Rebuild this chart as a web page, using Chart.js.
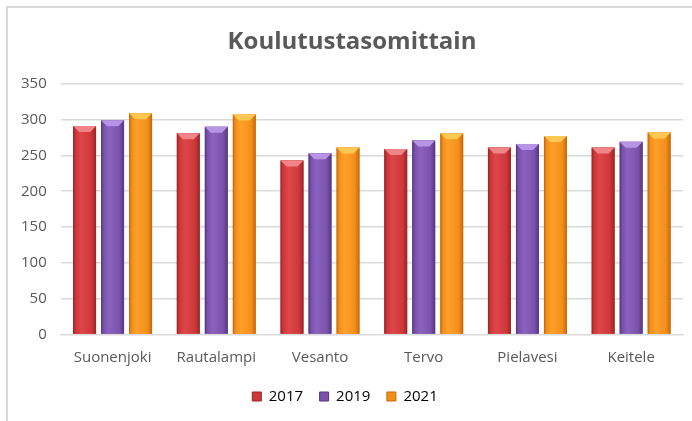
<!DOCTYPE html>
<html>
<head>
<meta charset="utf-8">
<script src="https://cdn.jsdelivr.net/npm/chart.js@4"></script>
<style>
    html, body { margin: 0; padding: 0; background: #fff; }
    #wrap { position: relative; width: 692px; height: 421px; overflow: hidden; }
    #frame { position: absolute; left: 6px; top: 6px; width: 720px; height: 440px; border: 2px solid #d9d9d9; box-sizing: border-box; }
    canvas { position: absolute; left: 0; top: 0; }
</style>
</head>
<body>
<div id="wrap">
    <div id="frame"></div>
    <canvas id="chart" width="692" height="421"></canvas>
</div>
<script>
const municipalities = ['Suonenjoki', 'Rautalampi', 'Vesanto', 'Tervo', 'Pielavesi', 'Keitele'];
const years = ['2017', '2019', '2021'];
const values2017 = [291, 281, 243, 259, 261, 261];
const values2019 = [299, 290, 253, 271, 266, 269];
const values2021 = [309, 307, 261, 281, 277, 282];
const yTicks = [0, 50, 100, 150, 200, 250, 300, 350];

// base colour, dark edge, light centre, top bevel
const palette = [
    { base: '#cd3739', edge: '#9a2426', light: '#de4749', top: '#f08486' },
    { base: '#7a52ab', edge: '#533681', light: '#8b62bf', top: '#b794e6' },
    { base: '#f28f1b', edge: '#c5660b', light: '#ffa02a', top: '#ffc852' }
];

// shaded bars: gradient across each bar plus a small bevel on top
const bevelPlugin = {
    id: 'bevel',
    afterLayout(chart) {
        // title sits a little right of the canvas centre in the original
        if (chart.titleBlock) chart.titleBlock.left += 14;
    },
    afterDatasetsDraw(chart) {
        const ctx = chart.ctx;
        chart.data.datasets.forEach((ds, i) => {
            const col = palette[i];
            chart.getDatasetMeta(i).data.forEach(bar => {
                const p = bar.getProps(['x', 'y', 'base', 'width'], true);
                const l = p.x - p.width / 2, r = p.x + p.width / 2;
                const g = ctx.createLinearGradient(l, 0, r, 0);
                g.addColorStop(0, col.edge);
                g.addColorStop(0.12, col.base);
                g.addColorStop(0.35, col.light);
                g.addColorStop(0.8, col.base);
                g.addColorStop(1, col.edge);
                ctx.save();
                ctx.fillStyle = g;
                ctx.fillRect(l, p.y, p.width, p.base - p.y);
                const b = 6;
                ctx.fillStyle = col.top;
                ctx.beginPath();
                ctx.moveTo(l, p.y);
                ctx.lineTo(r, p.y);
                ctx.lineTo(r - b, p.y + b);
                ctx.lineTo(l + b, p.y + b);
                ctx.closePath();
                ctx.fill();
                ctx.restore();
            });
        });
    }
};

const font = "'Open Sans', 'DejaVu Sans', sans-serif";

new Chart(document.getElementById('chart'), {
    type: 'bar',
    data: {
        labels: municipalities,
        datasets: [
            { label: years[0], data: values2017, backgroundColor: palette[0].base },
            { label: years[1], data: values2019, backgroundColor: palette[1].base },
            { label: years[2], data: values2021, backgroundColor: palette[2].base }
        ]
    },
    options: {
        responsive: false,
        animation: false,
        layout: { padding: { left: 7, right: 9, top: 14, bottom: 7 } },
        datasets: {
            bar: { categoryPercentage: 0.81, barPercentage: 0.82 }
        },
        plugins: {
            title: {
                display: true,
                text: 'Koulutustasomittain',
                color: '#595959',
                font: { family: font, size: 24, weight: 'bold' },
                padding: { top: 14, bottom: 27 }
            },
            legend: {
                position: 'bottom',
                labels: {
                    color: '#595959',
                    font: { family: font, size: 15 },
                    boxWidth: 9,
                    boxHeight: 9,
                    padding: 16.5,
                    generateLabels(chart) {
                        return chart.data.datasets.map((ds, i) => ({
                            text: ds.label,
                            fillStyle: palette[i].base,
                            strokeStyle: palette[i].edge,
                            lineWidth: 1,
                            datasetIndex: i
                        }));
                    }
                }
            },
            tooltip: { enabled: false }
        },
        scales: {
            x: {
                grid: { display: false },
                border: { color: '#d9d9d9', width: 1 },
                ticks: { color: '#595959', font: { family: font, size: 15 }, padding: 6 }
            },
            y: {
                min: yTicks[0],
                max: yTicks[yTicks.length - 1],
                afterBuildTicks(axis) {
                    axis.ticks = yTicks.map(v => ({ value: v }));
                },
                grid: { color: '#d9d9d9', lineWidth: 1.5, drawTicks: false },
                border: { display: false },
                ticks: { color: '#595959', font: { family: font, size: 15 }, padding: 14 }
            }
        }
    },
    plugins: [bevelPlugin]
});
</script>
</body>
</html>
